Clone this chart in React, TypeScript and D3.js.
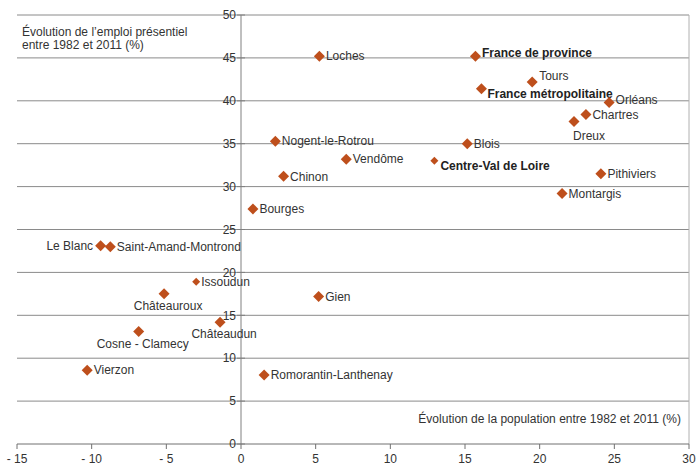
import * as React from 'react';
import { scaleLinear, range } from 'd3';

// villes / territoires
const names = [
    'Loches', 'France de province', 'Tours', 'France métropolitaine', 'Orléans', 'Chartres', 'Dreux',
    'Nogent-le-Rotrou', 'Blois', 'Vendôme', 'Centre-Val de Loire', 'Chinon', 'Pithiviers', 'Montargis',
    'Bourges', 'Le Blanc', 'Saint-Amand-Montrond', 'Issoudun', 'Châteauroux', 'Gien', 'Châteaudun',
    'Cosne - Clamecy', 'Vierzon', 'Romorantin-Lanthenay',
];
// évolution de la population 1982-2011 (%)
const popGrowth = [
    5.25, 15.7, 19.5, 16.1, 24.65, 23.1, 22.3,
    2.3, 15.15, 7.05, 12.95, 2.85, 24.1, 21.5,
    0.8, -9.4, -8.75, -3.0, -5.15, 5.2, -1.4,
    -6.85, -10.3, 1.55,
];
// évolution de l'emploi présentiel 1982-2011 (%)
const jobGrowth = [
    45.2, 45.2, 42.2, 41.4, 39.8, 38.4, 37.6,
    35.3, 35.0, 33.2, 33.0, 31.2, 31.5, 29.2,
    27.4, 23.1, 23.0, 18.9, 17.5, 17.2, 14.2,
    13.1, 8.6, 8.05,
];
// agrégats affichés en gras
const boldNames = ['France de province', 'France métropolitaine', 'Centre-Val de Loire'];
const smallNames = ['Centre-Val de Loire', 'Issoudun'];
// placement de l'étiquette: r = droite, l = gauche, b = dessous centré, bl = dessous aligné, ar = au-dessus à droite, br = à droite en dessous
const labelPos: Record<string, string> = {
    'Tours': 'ar', 'France métropolitaine': 'br', 'Centre-Val de Loire': 'br', 'Dreux': 'bl',
    'Le Blanc': 'l', 'Châteauroux': 'b', 'Châteaudun': 'b', 'Cosne - Clamecy': 'b', 'France de province': 'rt',
    'Orléans': 'rt',
};

const xTicks = range(-15, 31, 5);
const yTicks = range(0, 51, 5);

const W = 696, H = 465;
const margin = { top: 15, right: 7, bottom: 21, left: 17 };
const color = '#BE4F1C';
const txt = '#333';

export default function App() {
    const x = scaleLinear().domain([-15, 30]).range([margin.left, W - margin.right]);
    const y = scaleLinear().domain([0, 50]).range([H - margin.bottom, margin.top]);

    return (
        <svg width={W} height={H} style={{ position: 'absolute', left: 0, top: 0, background: '#fff' }}
            fontFamily="'Liberation Sans', Arial, sans-serif" fontSize={12}>
            {/* grille */}
            {yTicks.filter(t => t > 0).map(t => (
                <line key={t} x1={x(-15)} x2={x(30)} y1={y(t)} y2={y(t)} stroke="#8a8a8a" strokeWidth={1} />
            ))}
            <line x1={x(30)} x2={x(30)} y1={y(50)} y2={y(0)} stroke="#b0b0b0" />
            {/* axes */}
            <line x1={x(0)} x2={x(0)} y1={y(50)} y2={y(0)} stroke="#808080" />
            <line x1={x(-15)} x2={x(30)} y1={y(0)} y2={y(0)} stroke="#707070" />
            {xTicks.map(t => (
                <g key={t}>
                    <line x1={x(t)} x2={x(t)} y1={y(0)} y2={y(0) + 5} stroke="#707070" />
                    <text x={x(t)} y={y(0) + 19} textAnchor="middle" fill={txt}>
                        {t < 0 ? `- ${-t}` : t}
                    </text>
                </g>
            ))}
            {yTicks.map(t => (
                <g key={t}>
                    <line x1={x(0) - 4} x2={x(0) + 4} y1={y(t)} y2={y(t)} stroke="#808080" />
                    <text x={x(0) - 5} y={y(t)} dy="0.35em" textAnchor="end" fill={txt}>{t}</text>
                </g>
            ))}
            {/* titres */}
            <text x={22} y={36} fill={txt}>Évolution de l’emploi présentiel</text>
            <text x={22} y={49} fill={txt}>entre 1982 et 2011 (%)</text>
            <text x={681} y={423} textAnchor="end" fill={txt}>Évolution de la population entre 1982 et 2011 (%)</text>
            {/* points */}
            {names.map((n, i) => {
                const cx = x(popGrowth[i]);
                const cy = y(jobGrowth[i]);
                const r = smallNames.includes(n) ? 4 : 5.5;
                const pos = labelPos[n] || 'r';
                let tx = cx + r + 1, ty = cy, anchor = 'start';
                if (pos === 'l') { tx = cx - r - 2; anchor = 'end'; }
                if (pos === 'b') { tx = cx + 4; ty = cy + 12; anchor = 'middle'; }
                if (pos === 'bl') { tx = cx - 1; ty = cy + 14; }
                if (pos === 'ar') { tx = cx + 7; ty = cy - 6; }
                if (pos === 'br') { tx = cx + 6; ty = cy + 5; }
                if (pos === 'rt') { ty = cy - 3; }
                return (
                    <g key={n}>
                        <path d={`M${cx},${cy - r}L${cx + r},${cy}L${cx},${cy + r}L${cx - r},${cy}Z`} fill={color} />
                        <text x={tx} y={ty} dy="0.35em" textAnchor={anchor} fill={boldNames.includes(n) ? '#222' : txt}
                            fontWeight={boldNames.includes(n) ? 'bold' : 'normal'}>{n}</text>
                    </g>
                );
            })}
        </svg>
    );
}
